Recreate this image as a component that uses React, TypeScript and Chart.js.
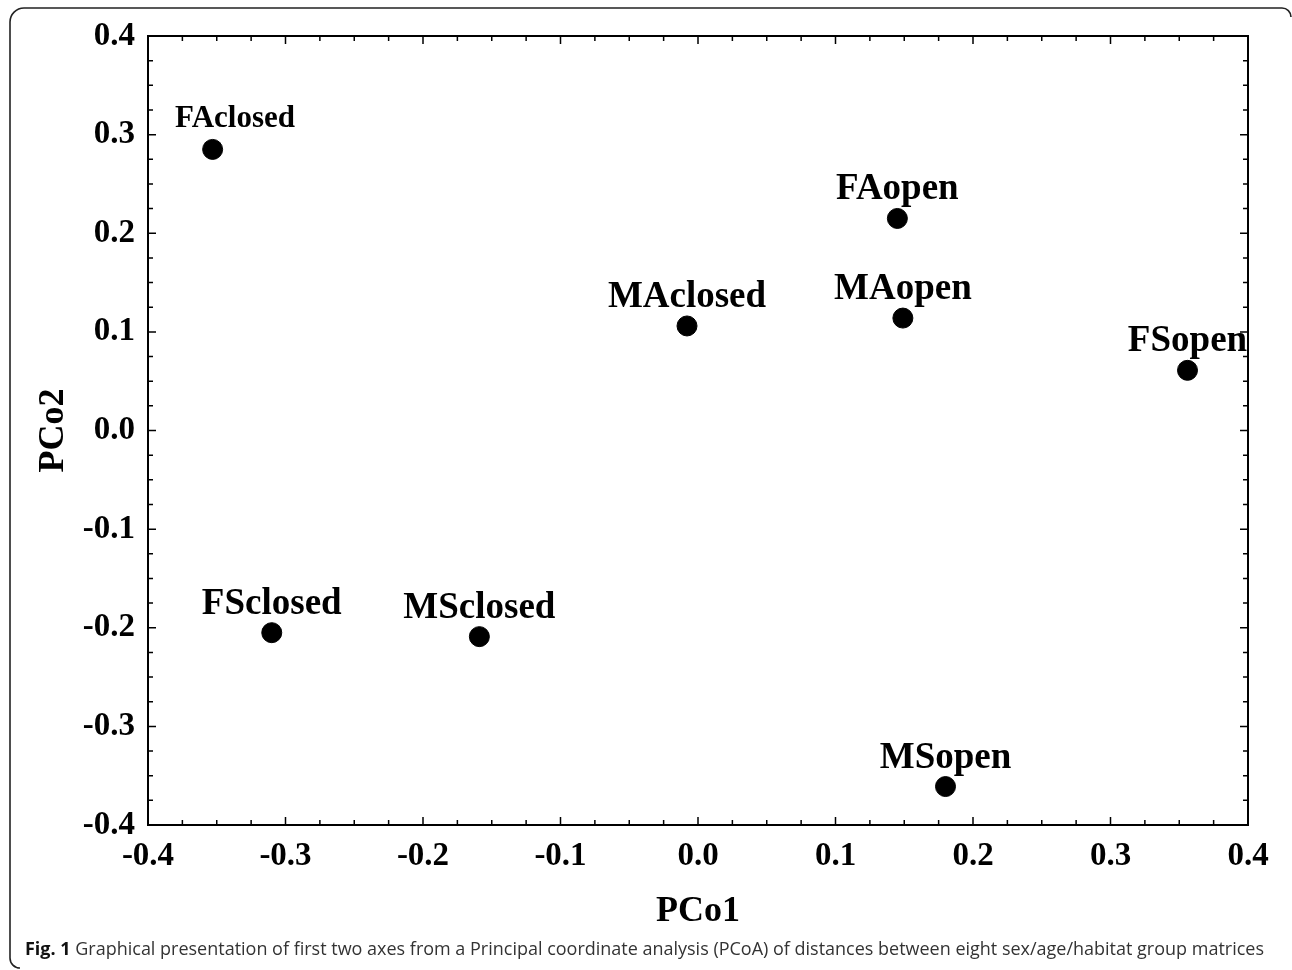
import React, { useEffect, useRef } from "react";
import { Chart, registerables } from "chart.js";

Chart.register(...registerables);

const groupNames = ["FAclosed", "FAopen", "MAclosed", "MAopen", "FSopen", "FSclosed", "MSclosed", "MSopen"];
const pco1Values = [-0.353, 0.145, -0.008, 0.149, 0.356, -0.310, -0.159, 0.180];
const pco2Values = [0.285, 0.215, 0.106, 0.114, 0.061, -0.205, -0.209, -0.361];
const labelFontSizes = [31, 37, 37, 37, 37, 37, 37, 37];
const xTitle = "PCo1";
const yTitle = "PCo2";
const captionBold = "Fig. 1";
const captionText = " Graphical presentation of first two axes from a Principal coordinate analysis (PCoA) of distances between eight sex/age/habitat group matrices";

const SERIF = '"Liberation Serif", "Times New Roman", serif';
const SANS = '"Open Sans", "Noto Sans", sans-serif';

const decorPlugin = {
  id: "decor",
  afterDraw(chart: any) {
    const ctx = chart.ctx;
    const a = chart.chartArea;
    const xs = chart.scales.x;
    const ys = chart.scales.y;
    ctx.save();
    // outer rounded border
    ctx.strokeStyle = "#222";
    ctx.lineWidth = 1.6;
    const bx = 10, by = 8, r = 14;
    ctx.beginPath();
    ctx.moveTo(1282, by);
    ctx.lineTo(bx + r, by);
    ctx.arcTo(bx, by, bx, by + r, r);
    ctx.lineTo(bx, 955);
    ctx.arcTo(bx, 968, bx + 6, 968, 10);
    ctx.stroke();
    ctx.beginPath();
    ctx.moveTo(1282, by);
    ctx.arcTo(1291, by, 1291, 18, 9);
    ctx.stroke();

    // plot frame
    ctx.strokeStyle = "#000";
    ctx.lineWidth = 2;
    ctx.strokeRect(a.left, a.top, a.right - a.left, a.bottom - a.top);

    // inward ticks on all 4 sides
    ctx.lineWidth = 1.5;
    for (let i = -16; i <= 16; i++) {
      const v = i * 0.025;
      const major = i % 4 === 0;
      const len = major ? 8 : 5;
      const px = xs.getPixelForValue(v);
      const py = ys.getPixelForValue(v);
      ctx.beginPath();
      ctx.moveTo(px, a.bottom); ctx.lineTo(px, a.bottom - len);
      ctx.moveTo(px, a.top); ctx.lineTo(px, a.top + len);
      ctx.moveTo(a.left, py); ctx.lineTo(a.left + len, py);
      ctx.moveTo(a.right, py); ctx.lineTo(a.right - len, py);
      ctx.stroke();
    }

    // point labels
    ctx.fillStyle = "#000";
    ctx.textBaseline = "alphabetic";
    ctx.textAlign = "left";
    const meta = chart.getDatasetMeta(0);
    meta.data.forEach((pt: any, i: number) => {
      const name = groupNames[i];
      const fs = labelFontSizes[i];
      ctx.font = `bold ${fs}px ${SERIF}`;
      const w = ctx.measureText(name).width;
      let left = pt.x - w / 2;
      if (left < a.left + 27) left = a.left + 27;
      ctx.fillText(name, left, pt.y - (fs < 34 ? 22 : 19));
    });

    // axis titles
    ctx.font = `bold 36px ${SERIF}`;
    ctx.textAlign = "center";
    ctx.textBaseline = "middle";
    ctx.fillText(xTitle, (a.left + a.right) / 2, 912);
    ctx.save();
    ctx.translate(54, (a.top + a.bottom) / 2);
    ctx.rotate(-Math.PI / 2);
    ctx.fillText(yTitle, 0, 0);
    ctx.restore();

    // caption
    ctx.textAlign = "left";
    ctx.textBaseline = "alphabetic";
    const base = 24;
    ctx.font = `bold ${base}px ${SANS}`;
    const b1 = ctx.measureText(captionBold).width;
    ctx.font = `${base}px ${SANS}`;
    const b2 = ctx.measureText(captionText).width;
    const size = base * 1240 / (b1 + b2);
    ctx.font = `bold ${size}px ${SANS}`;
    ctx.fillStyle = "#111";
    ctx.fillText(captionBold, 25, 955);
    const w1 = ctx.measureText(captionBold).width;
    ctx.font = `${size}px ${SANS}`;
    ctx.fillStyle = "#333";
    ctx.fillText(captionText, 25 + w1, 955);
    ctx.restore();
  },
};

export default function App() {
  const ref = useRef<HTMLCanvasElement>(null);
  useEffect(() => {
    document.body.style.margin = "0";
    const points = pco1Values.map((x, i) => ({ x, y: pco2Values[i] }));
    const chart = new Chart(ref.current!, {
      type: "scatter",
      data: {
        datasets: [
          {
            label: "groups",
            data: points,
            backgroundColor: "#000",
            borderColor: "#000",
            pointRadius: 10,
            pointHoverRadius: 10,
          },
        ],
      },
      options: {
        animation: false,
        responsive: false,
        devicePixelRatio: 1,
        layout: { padding: { left: 0, top: 36, right: 44, bottom: 0 } },
        plugins: { legend: { display: false }, tooltip: { enabled: false } },
        scales: {
          x: {
            type: "linear",
            min: -0.4,
            max: 0.4,
            grid: { display: false, drawTicks: false },
            border: { display: false },
            ticks: {
              stepSize: 0.1,
              padding: 12,
              color: "#000",
              font: { family: SERIF, size: 33, weight: "bold" },
              callback: (v: any) => Number(v).toFixed(1),
            },
            afterFit: (s: any) => { s.height = 145; },
          },
          y: {
            type: "linear",
            min: -0.4,
            max: 0.4,
            grid: { display: false, drawTicks: false },
            border: { display: false },
            ticks: {
              stepSize: 0.1,
              padding: 13,
              color: "#000",
              font: { family: SERIF, size: 33, weight: "bold" },
              callback: (v: any) => Number(v).toFixed(1),
            },
            afterFit: (s: any) => { s.width = 148; },
          },
        },
      },
      plugins: [decorPlugin],
    });
    return () => chart.destroy();
  }, []);
  return (
    <div style={{ position: "absolute", left: 0, top: 0, width: 1292, height: 970, background: "#fff" }}>
      <canvas ref={ref} width={1292} height={970} />
    </div>
  );
}
